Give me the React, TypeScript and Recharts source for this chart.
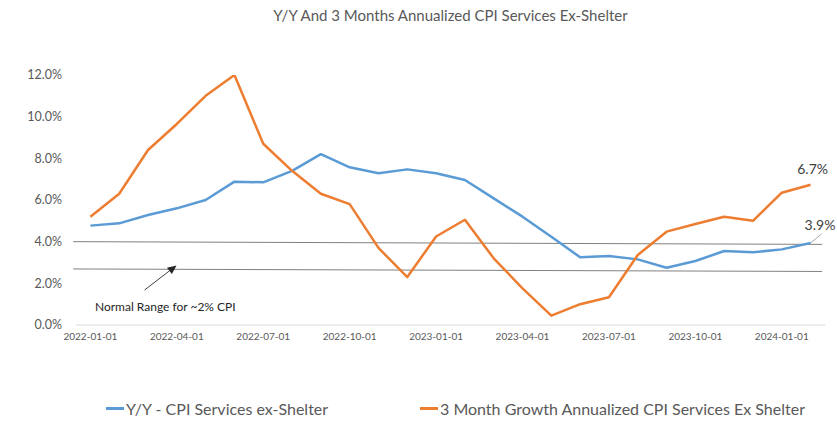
import { LineChart, Line, XAxis, YAxis, ReferenceLine, ReferenceDot, LabelList } from 'recharts';

const MONTHS = [
  '2022-01-01', '2022-02-01', '2022-03-01', '2022-04-01', '2022-05-01', '2022-06-01',
  '2022-07-01', '2022-08-01', '2022-09-01', '2022-10-01', '2022-11-01', '2022-12-01',
  '2023-01-01', '2023-02-01', '2023-03-01', '2023-04-01', '2023-05-01', '2023-06-01',
  '2023-07-01', '2023-08-01', '2023-09-01', '2023-10-01', '2023-11-01', '2023-12-01',
  '2024-01-01', '2024-02-01',
];

// Y/Y CPI services ex-shelter (%)
const YOY = [
  4.77, 4.88, 5.28, 5.6, 6.0, 6.88, 6.85, 7.4, 8.2, 7.57, 7.28, 7.47,
  7.28, 6.96, 6.08, 5.2, 4.24, 3.25, 3.31, 3.15, 2.75, 3.07, 3.55, 3.49,
  3.63, 3.94,
];

// 3 month growth annualized (%)
const ANN_3M = [
  5.2, 6.3, 8.4, 9.65, 11.0, 12.0, 8.7, 7.4, 6.3, 5.8, 3.7, 2.3,
  4.25, 5.05, 3.2, 1.76, 0.45, 1.0, 1.33, 3.36, 4.48, 4.85, 5.2, 5.0,
  6.35, 6.73,
];

const X_TICKS = [0, 3, 6, 9, 12, 15, 18, 21, 24];
const Y_TICKS = [0, 2, 4, 6, 8, 10, 12];

// the two hand-drawn "normal range" lines (start / end value)
const RANGE_UPPER = [4.0, 3.87];
const RANGE_LOWER = [2.69, 2.57];

const BLUE = '#5B9BD5';
const ORANGE = '#ED7D31';
const FONT = 'Lato, "Open Sans", sans-serif';

const SERIES = [
  { key: 'yoy', name: 'Y/Y - CPI Services ex-Shelter', color: BLUE, left: 106 },
  { key: 'ann', name: '3 Month Growth Annualized CPI Services Ex Shelter', color: ORANGE, left: 420 },
];

const data = MONTHS.map((m, i) => ({ i, month: m, yoy: YOY[i], ann: ANN_3M[i] }));
const last = MONTHS.length - 1;

const arrowShape = (p: any) => {
  const { x1, y1, x2, y2 } = p;
  const a = Math.atan2(y2 - y1, x2 - x1);
  const len = 9;
  const w = 4;
  const bx = x2 - len * Math.cos(a);
  const by = y2 - len * Math.sin(a);
  const pts = [
    `${x2},${y2}`,
    `${bx + w * Math.sin(a)},${by - w * Math.cos(a)}`,
    `${bx - w * Math.sin(a)},${by + w * Math.cos(a)}`,
  ].join(' ');
  return (
    <g>
      <line x1={x1} y1={y1} x2={bx} y2={by} stroke="#404040" strokeWidth={1} />
      <polygon points={pts} fill="#262626" />
    </g>
  );
};

const orangeLabel = (p: any) => {
  if (p.index !== last) return null;
  return (
    <text x={p.x + 2} y={p.y - 16} textAnchor="middle" dominantBaseline="central"
      fontFamily={FONT} fontSize={14} fill="#404040">
      {Number(p.value).toFixed(1)}%
    </text>
  );
};

const blueLabel = (p: any) => {
  if (p.index !== last) return null;
  return (
    <g>
      <line x1={p.x} y1={p.y} x2={p.x + 11} y2={p.y - 9} stroke="#a6a6a6" strokeWidth={1} />
      <text x={p.x - 6} y={p.y - 18} textAnchor="start" dominantBaseline="central"
        fontFamily={FONT} fontSize={14} fill="#404040">
        {Number(p.value).toFixed(1)}%
      </text>
    </g>
  );
};

export default function App() {
  return (
    <div style={{ position: 'relative', width: 837, height: 422, background: '#fff', fontFamily: FONT }}>
      <style>{'body{margin:0}'}</style>
      <div style={{ position: 'absolute', top: 6, left: 32, width: 837, textAlign: 'center', fontSize: 15, color: '#595959' }}>
        Y/Y And 3 Months Annualized CPI Services Ex-Shelter
      </div>
      <LineChart width={837} height={422} data={data} margin={{ top: 75, right: 12, bottom: 67, left: 0 }}>
        <XAxis
          type="number"
          dataKey="i"
          domain={[-0.5, MONTHS.length - 0.5]}
          ticks={X_TICKS}
          tickFormatter={(v: number) => MONTHS[v]}
          tick={{ fontSize: 10, fill: '#595959', fontFamily: FONT }}
          tickLine={false}
          axisLine={{ stroke: '#d9d9d9' }}
          height={30}
        />
        <YAxis
          domain={[0, 12]}
          ticks={Y_TICKS}
          allowDataOverflow
          tickFormatter={(v: number) => `${v.toFixed(1)}%`}
          tick={{ fontSize: 12.5, fill: '#595959', fontFamily: FONT }}
          tickLine={false}
          axisLine={false}
          width={76}
          tickMargin={8}
        />
        <ReferenceLine
          segment={[{ x: -0.6, y: RANGE_UPPER[0] }, { x: 25.4, y: RANGE_UPPER[1] }]}
          stroke="#808080" strokeWidth={1} ifOverflow="visible"
        />
        <ReferenceLine
          segment={[{ x: -0.6, y: RANGE_LOWER[0] }, { x: 25.4, y: RANGE_LOWER[1] }]}
          stroke="#808080" strokeWidth={1} ifOverflow="visible"
        />
        <ReferenceLine
          segment={[{ x: 1.88, y: 1.68 }, { x: 2.99, y: 2.86 }]}
          shape={arrowShape} ifOverflow="visible"
        />
        <ReferenceDot
          x={2.6} y={0.86} r={0} fill="none" stroke="none" ifOverflow="visible"
          label={{ value: 'Normal Range for ~2% CPI', position: 'center', fontSize: 12, fill: '#262626', fontFamily: FONT }}
        />
        <Line
          type="linear" dataKey="yoy" name={SERIES[0].name} stroke={BLUE} strokeWidth={2.5}
          dot={false} isAnimationActive={false} strokeLinejoin="round"
        >
          <LabelList dataKey="yoy" content={blueLabel} />
        </Line>
        <Line
          type="linear" dataKey="ann" name={SERIES[1].name} stroke={ORANGE} strokeWidth={2.5}
          dot={false} isAnimationActive={false} strokeLinejoin="round"
        >
          <LabelList dataKey="ann" content={orangeLabel} />
        </Line>
      </LineChart>
      {SERIES.map(s => (
        <div key={s.key} style={{ position: 'absolute', top: 399, left: s.left, display: 'flex', alignItems: 'center', gap: 2, fontSize: 16, color: '#595959', whiteSpace: 'nowrap' }}>
          <div style={{ width: 18, height: 3, background: s.color }} />
          <span>{s.name}</span>
        </div>
      ))}
    </div>
  );
}
